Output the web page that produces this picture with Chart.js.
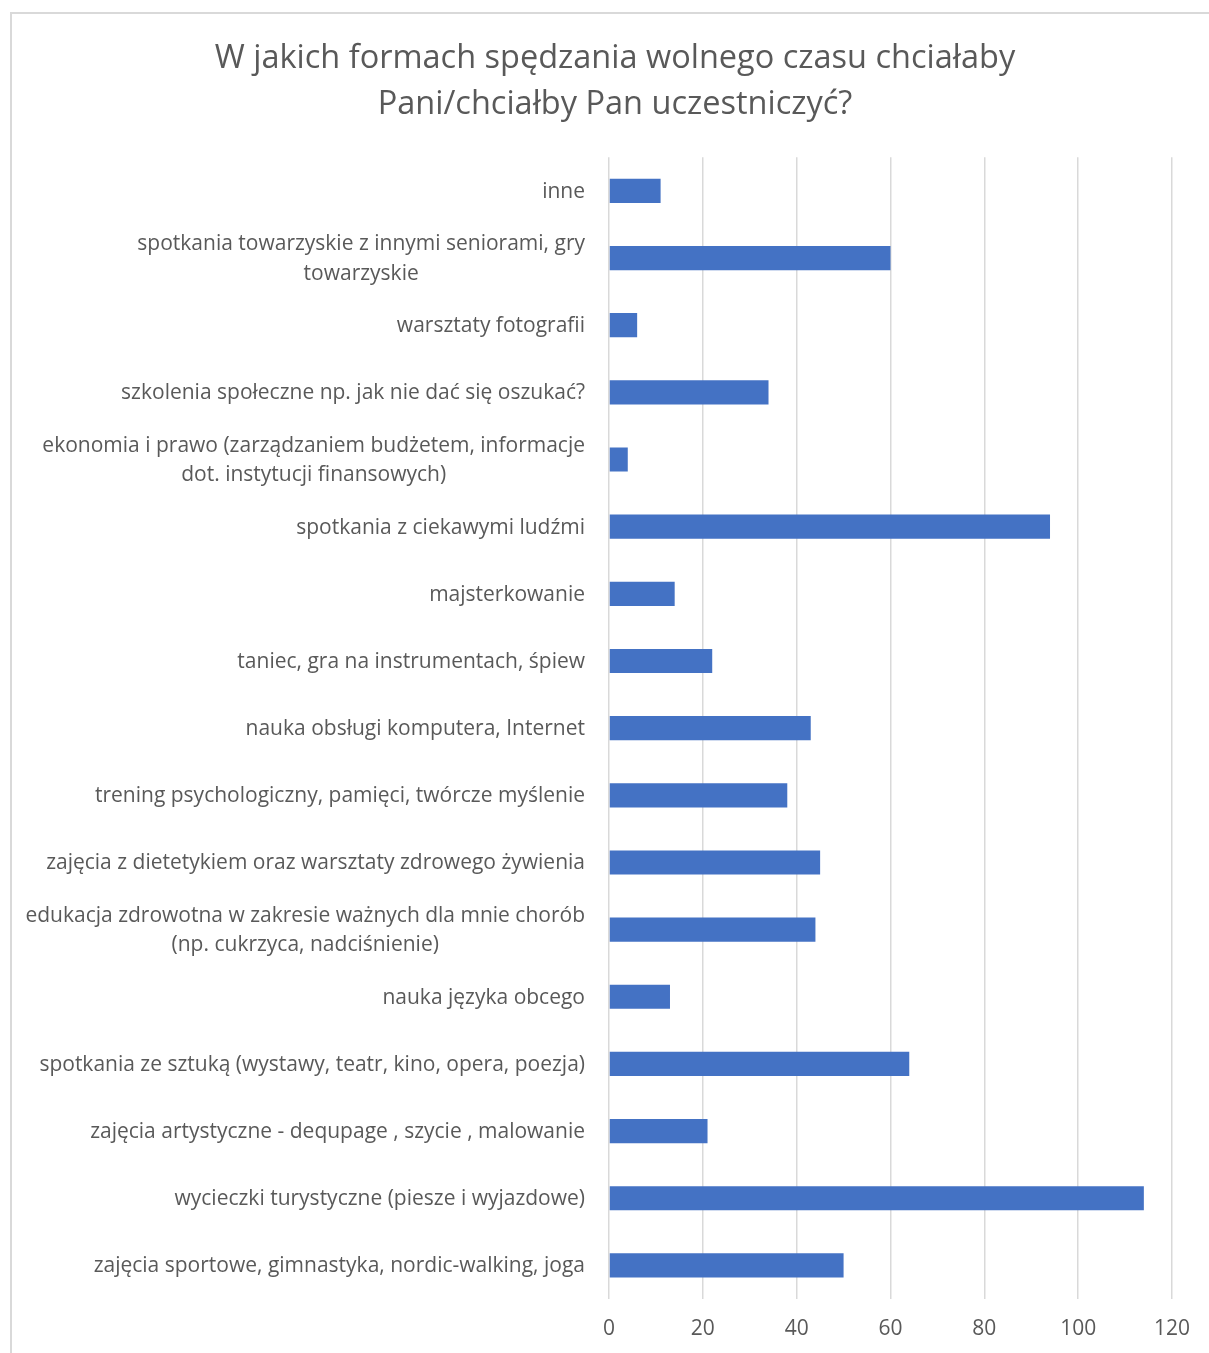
<!DOCTYPE html>
<html>
<head>
<meta charset="utf-8">
<script src="https://cdn.jsdelivr.net/npm/chart.js@4"></script>
<style>
  html, body { margin: 0; padding: 0; background: #fff; overflow: hidden; }
  #wrap { position: relative; width: 1209px; height: 1353px; }
  #frame { position: absolute; left: 10px; top: 12px; width: 1300px; height: 1400px;
           border-left: 2px solid #d9d9d9; border-top: 2px solid #d9d9d9; }
  canvas { position: absolute; left: 0; top: 0; }
</style>
</head>
<body>
<div id="wrap">
  <div id="frame"></div>
  <canvas id="chart" width="1209" height="1353"></canvas>
</div>
<script>
const titleLines = [
  "W jakich formach spędzania wolnego czasu chciałaby",
  "Pani/chciałby Pan uczestniczyć?"
];

// top to bottom as in the picture
const categories = [
  "inne",
  ["spotkania towarzyskie z innymi seniorami, gry", "towarzyskie"],
  "warsztaty fotografii",
  "szkolenia społeczne np. jak nie dać się oszukać?",
  ["ekonomia i prawo (zarządzaniem budżetem, informacje", "dot. instytucji finansowych)"],
  "spotkania z ciekawymi ludźmi",
  "majsterkowanie",
  "taniec, gra na instrumentach, śpiew",
  "nauka obsługi komputera, Internet",
  "trening psychologiczny, pamięci, twórcze myślenie",
  "zajęcia z dietetykiem oraz warsztaty zdrowego żywienia",
  ["edukacja zdrowotna w zakresie ważnych dla mnie chorób", "(np. cukrzyca, nadciśnienie)"],
  "nauka języka obcego",
  "spotkania ze sztuką (wystawy, teatr, kino, opera, poezja)",
  "zajęcia artystyczne - dequpage , szycie , malowanie",
  "wycieczki turystyczne (piesze i wyjazdowe)",
  "zajęcia sportowe, gimnastyka, nordic-walking, joga"
];

const answers = [11, 60, 6, 34, 4, 94, 14, 22, 43, 38, 45, 44, 13, 64, 21, 114, 50];

const xTicks = [0, 20, 40, 60, 80, 100, 120];

const FONT = "'Open Sans', sans-serif";
const TEXT = "#595959";

// Excel-style labels: block right aligned, lines centred inside the block
const centredLabels = {
  id: "centredLabels",
  afterDraw(chart) {
    const ys = chart.scales.y;
    const c = chart.ctx;
    const right = ys.right - 24;
    const lh = 29.5;
    c.save();
    c.font = "21px " + FONT;
    c.fillStyle = TEXT;
    c.textAlign = "center";
    c.textBaseline = "middle";
    categories.forEach((lab, i) => {
      const lines = Array.isArray(lab) ? lab : [lab];
      const w = Math.max(...lines.map(l => c.measureText(l).width));
      const cx = right - w / 2;
      const y0 = ys.getPixelForTick(i) + 1 - (lines.length - 1) * lh / 2;
      lines.forEach((l, k) => c.fillText(l, cx, y0 + k * lh));
    });
    c.restore();
  }
};

new Chart(document.getElementById("chart"), {
  type: "bar",
  data: {
    labels: categories,
    datasets: [{
      data: answers,
      backgroundColor: "#4472c4",
      borderColor: "#4472c4",
      borderWidth: 0,
      categoryPercentage: 1,
      barPercentage: 0.36
    }]
  },
  options: {
    indexAxis: "y",
    responsive: false,
    animation: false,
    layout: { padding: { left: 58, right: 37, top: 0, bottom: 0 } },
    plugins: {
      legend: { display: false },
      tooltip: { enabled: false },
      title: {
        display: true,
        text: titleLines,
        color: TEXT,
        font: { family: FONT, size: 32.5, weight: "normal", lineHeight: 1.42 },
        padding: { top: 36, bottom: 29 }
      }
    },
    scales: {
      x: {
        min: 0,
        max: 120,
        afterBuildTicks(s) { s.ticks = xTicks.map(v => ({ value: v })); },
        afterFit(s) { s.height = 54; },
        grid: { color: "#d9d9d9", lineWidth: 1.5, drawTicks: false },
        border: { display: false },
        ticks: { color: TEXT, font: { family: FONT, size: 21 }, padding: 17 }
      },
      y: {
        afterFit(s) { s.width = 551; },
        grid: { display: false },
        border: { display: false },
        ticks: { color: "rgba(0,0,0,0)", autoSkip: false, font: { family: FONT, size: 20 } }
      }
    }
  },
  plugins: [centredLabels]
});
</script>
</body>
</html>
